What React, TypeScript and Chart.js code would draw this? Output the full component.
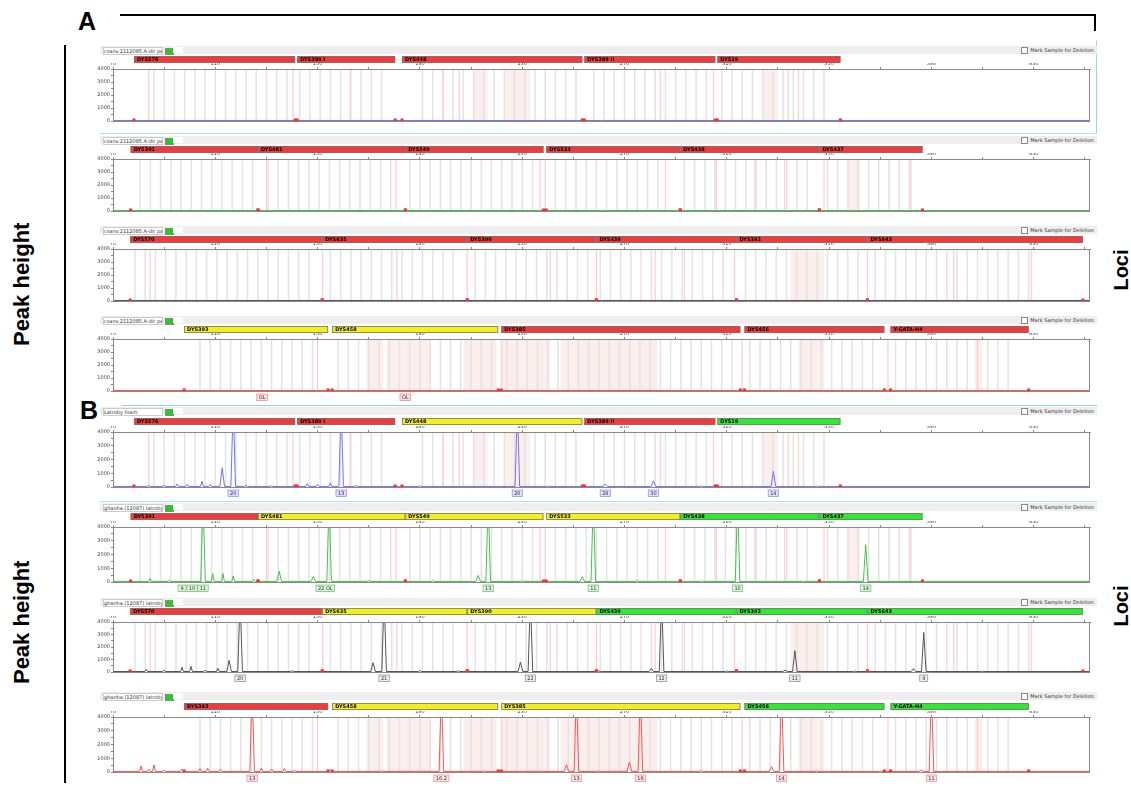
import React, { useEffect, useRef } from "react";
import { Chart, registerables } from "chart.js";
Chart.register(...registerables);

// ---------- axes ----------
const X_MIN = 70;
const X_MAX = 452;
const X_TICKS = [70, 90, 110, 130, 150, 170, 190, 210, 230, 250, 270, 290, 310, 330, 350, 370, 390, 410, 430, 450];
const X_LABELS = [70, 110, 150, 190, 230, 270, 310, 350, 390, 430];
const Y_TICKS = [0, 500, 1000, 1500, 2000, 2500, 3000, 3500, 4000];
const Y_LABELS = [0, 1000, 2000, 3000, 4000];
const BASE = 40;
const BIN_STEP = 4;

// ---------- dye rows: loci, ranges (bp), bins, virtual bins ----------
const LOCI_R1 = ["DYS576", "DYS389 I", "DYS448", "DYS389 II", "DYS19"];
const RANGE_R1 = [[78.2, 141.2], [142, 180.3], [183, 253.5], [254.3, 305.5], [306.3, 354.4]];
const BINS_R1 = [[86, 138], [143, 177], [191, 252], [258, 304], [308, 348]];
const PINK_R1 = [84, 140.4, 162.7, 199, 205.4, 284, 304.8, 334, 338];
const BANDS_R1 = [[211, 216.5], [223, 233], [324, 330]];

const LOCI_R2 = ["DYS391", "DYS481", "DYS549", "DYS533", "DYS438", "DYS437"];
const RANGE_R2 = [[76.9, 126.7], [126.7, 184.3], [184.3, 238.3], [239.4, 291.8], [291.8, 346.2], [346.2, 386.5]];
const BINS_R2 = [[80.6, 126], [130.6, 179.6], [186, 237], [239, 283], [293.4, 344], [349.4, 382]];
const PINK_R2 = [130, 180.7, 237, 286, 306, 321, 332.6, 348, 382];
const BANDS_R2 = [[357, 362]];

const LOCI_R3 = ["DYS570", "DYS635", "DYS390", "DYS439", "DYS392", "DYS643"];
const RANGE_R3 = [[76.7, 151.8], [151.8, 208.5], [208.5, 259], [259, 313.8], [313.8, 365], [365, 449.2]];
const BINS_R3 = [[78.6, 149], [155, 205.8], [211.6, 256.6], [260.5, 311.4], [317.3, 362.3], [368, 430]];
const PINK_R3 = [84.5, 152, 181, 208.5, 241, 259, 282, 293.4, 313, 365, 398.7, 429];
const BANDS_R3 = [[335, 348]];

const LOCI_R4 = ["DYS393", "DYS458", "DYS385", "DYS456", "Y-GATA-H4"];
const RANGE_R4 = [[97.8, 154.1], [155.7, 220.6], [221.8, 315.3], [316.9, 371.6], [374, 428]];
const BINS_R4 = [[104, 148], [158, 218], [224, 312], [319, 370], [376, 420]];
const PINK_R4 = [150, 222, 316, 373, 408];
const BANDS_R4 = [[169, 175.6], [177, 194], [207, 220], [221.5, 241], [245, 283], [338, 348], [407, 410]];

// ---------- locus bar colours per panel (R / Y / G) ----------
const COLS_A1 = ["R", "R", "R", "R", "R"];
const COLS_A2 = ["R", "R", "R", "R", "R", "R"];
const COLS_A3 = ["R", "R", "R", "R", "R", "R"];
const COLS_A4 = ["Y", "Y", "R", "R", "R"];
const COLS_B1 = ["R", "R", "Y", "R", "G"];
const COLS_B2 = ["R", "Y", "Y", "Y", "G", "G"];
const COLS_B3 = ["R", "Y", "Y", "G", "G", "G"];
const COLS_B4 = ["R", "Y", "Y", "G", "G"];

// ---------- peaks [bp, RFU] ----------
const PEAKS_B1 = [[112.7, 1400], [117, 6000], [159.2, 6000], [228.1, 6000], [262.5, 220], [281.3, 460], [328.2, 1140]];
const NOISE_B1 = [[84, 120], [90, 150], [95, 220], [99, 200], [104.8, 420], [108, 180], [122, 140], [132, 100], [146, 260], [150, 200], [155, 300], [165, 120], [190, 90], [240, 80], [300, 90], [345, 70]];
const PEAKS_B2 = [[105.2, 6000], [135, 775], [148.3, 400], [154.5, 6000], [212.8, 485], [216.7, 6000], [253.5, 400], [257.8, 6000], [314.2, 6000], [364.3, 2715]];
const NOISE_B2 = [[84.5, 260], [92, 120], [109, 600], [113, 620], [117, 450], [125, 200], [170, 120], [195, 100], [230, 90], [275, 100], [300, 80], [340, 60]];
const PEAKS_B3 = [[115.4, 940], [119.7, 6000], [171.7, 745], [176, 6000], [229.3, 800], [233.2, 6000], [280.5, 280], [284.5, 6000], [332.8, 150], [336.6, 1710], [383, 280], [387, 3170]];
const NOISE_B3 = [[83, 200], [90, 150], [97, 380], [100.5, 450], [106, 150], [111, 300], [140, 100], [190, 120], [205, 100], [260, 90], [310, 80], [360, 70], [410, 60]];
const PEAKS_B4 = [[124.4, 6000], [198.4, 6000], [247.3, 530], [251.2, 6000], [271.9, 730], [276.2, 6000], [327.5, 390], [331.4, 6000], [386, 150], [390, 6000]];
const NOISE_B4 = [[81, 450], [84, 200], [86, 520], [90, 150], [97, 200], [104, 250], [107, 280], [112, 180], [128, 280], [132, 220], [137, 260], [141, 120], [155, 150], [175, 80], [215, 90], [260, 80], [300, 120], [345, 90], [370, 60]];

// ---------- allele call boxes [bp, label] ----------
const CALLS_A4 = [[128.3, "OL"], [184.3, "OL"]];
const CALLS_B1 = [[117, "20"], [159.2, "13"], [228.1, "20"], [262.5, "28"], [281.3, "30"], [328.2, "14"]];
const CALLS_B2 = [[97, "9"], [100.9, "10"], [105.2, "11"], [153, "22 OL"], [216.7, "13"], [257.8, "11"], [314.2, "10"], [364.3, "14"]];
const CALLS_B3 = [[119.7, "20"], [176, "21"], [233.2, "22"], [284.5, "12"], [336.6, "11"], [387, "9"]];
const CALLS_B4 = [[124.4, "13"], [198.4, "16.2"], [251.2, "13"], [276.2, "16"], [331.4, "14"], [390, "11"]];

const LOCUS_FILL: Record<string, string> = { R: "#f23a3a", Y: "#f4ef1c", G: "#2fe82f" };
const BLUE = "#7373ee";
const GREEN = "#49c049";
const GREY = "#555555";
const RED = "#ff5252";

const ROWS = [
  { loci: LOCI_R1, ranges: RANGE_R1, bins: BINS_R1, pink: PINK_R1, bands: BANDS_R1 },
  { loci: LOCI_R2, ranges: RANGE_R2, bins: BINS_R2, pink: PINK_R2, bands: BANDS_R2 },
  { loci: LOCI_R3, ranges: RANGE_R3, bins: BINS_R3, pink: PINK_R3, bands: BANDS_R3 },
  { loci: LOCI_R4, ranges: RANGE_R4, bins: BINS_R4, pink: PINK_R4, bands: BANDS_R4 },
];

type PanelCfg = {
  header: number; bar: number; plotTop: number; plotBottom: number;
  row: number; cols: string[]; color: string; peaks: number[][]; noise: number[][];
  calls: any[]; callFill: string; callStroke: string; sample: string;
};

const PANELS: PanelCfg[] = [
  { header: 46, bar: 56, plotTop: 69, plotBottom: 121, row: 0, cols: COLS_A1, color: BLUE, peaks: [], noise: [], calls: [], callFill: "#dde", callStroke: BLUE, sample: "csanv.2112085.A-dir pay20" },
  { header: 136, bar: 146, plotTop: 159, plotBottom: 211, row: 1, cols: COLS_A2, color: GREEN, peaks: [], noise: [], calls: [], callFill: "#dfd", callStroke: GREEN, sample: "csanv.2112085.A-dir pay20" },
  { header: 226, bar: 236, plotTop: 249, plotBottom: 301, row: 2, cols: COLS_A3, color: GREY, peaks: [], noise: [], calls: [], callFill: "#eee", callStroke: GREY, sample: "csanv.2112085.A-dir pay20" },
  { header: 316, bar: 326, plotTop: 339, plotBottom: 391, row: 3, cols: COLS_A4, color: RED, peaks: [], noise: [], calls: CALLS_A4, callFill: "#fde0e0", callStroke: "#f08080", sample: "csanv.2112085.A-dir pay20" },
  { header: 407, bar: 418, plotTop: 432, plotBottom: 487, row: 0, cols: COLS_B1, color: BLUE, peaks: PEAKS_B1, noise: NOISE_B1, calls: CALLS_B1, callFill: "#dfe0ff", callStroke: "#8888ee", sample: "Latroby foam" },
  { header: 503, bar: 513, plotTop: 527, plotBottom: 582, row: 1, cols: COLS_B2, color: GREEN, peaks: PEAKS_B2, noise: NOISE_B2, calls: CALLS_B2, callFill: "#dcf5dc", callStroke: "#66bb66", sample: "ghanha.(12087) latroby foam" },
  { header: 598, bar: 608, plotTop: 622, plotBottom: 672, row: 2, cols: COLS_B3, color: GREY, peaks: PEAKS_B3, noise: NOISE_B3, calls: CALLS_B3, callFill: "#eeeeee", callStroke: "#888888", sample: "ghanha.(12087) latroby foam" },
  { header: 692, bar: 703, plotTop: 717, plotBottom: 772, row: 3, cols: COLS_B4, color: RED, peaks: PEAKS_B4, noise: NOISE_B4, calls: CALLS_B4, callFill: "#fde3e3", callStroke: "#ee8888", sample: "ghanha.(12087) latroby foam" },
];

function buildTrace(peaks: number[][], noise: number[][]) {
  const pts: { x: number; y: number }[] = [{ x: X_MIN, y: BASE }];
  const all = [
    ...peaks.map((p) => [p[0], p[1], 0.9]),
    ...noise.map((n) => [n[0], n[1], 0.55]),
  ].sort((a, b) => a[0] - b[0]);
  for (const [bp, h, w] of all) {
    pts.push({ x: bp - w, y: BASE }, { x: bp, y: h }, { x: bp + w, y: BASE });
  }
  pts.push({ x: X_MAX, y: BASE });
  return pts;
}

const CANVAS_LEFT = 95;
const CANVAS_W = 1000;

function Panel({ cfg }: { cfg: PanelCfg }) {
  const ref = useRef<HTMLCanvasElement>(null);
  const canvasTop = cfg.bar - 1;
  const height = cfg.plotBottom - canvasTop + 14;

  useEffect(() => {
    if (!ref.current) return;
    const row = ROWS[cfg.row];
    const padTop = cfg.plotTop - canvasTop - 6;

    const decor = {
      id: "decor",
      beforeDatasetsDraw(chart: any) {
        const { ctx, chartArea: a } = chart;
        const x = chart.scales.x;
        ctx.save();
        ctx.beginPath();
        ctx.rect(a.left, a.top, a.right - a.left, a.bottom - a.top);
        ctx.clip();
        ctx.fillStyle = "#fdeeee";
        row.bands.forEach(([s, e]) => {
          const x1 = x.getPixelForValue(s);
          const x2 = x.getPixelForValue(e);
          ctx.fillRect(x1, a.top, x2 - x1, a.bottom - a.top);
        });
        ctx.strokeStyle = "#e3e3e3";
        ctx.lineWidth = 1.5;
        row.bins.forEach(([s, e]) => {
          for (let v = s; v <= e + 0.01; v += BIN_STEP) {
            const px = x.getPixelForValue(v);
            ctx.beginPath();
            ctx.moveTo(px, a.top);
            ctx.lineTo(px, a.bottom);
            ctx.stroke();
          }
        });
        ctx.strokeStyle = "#ffcccc";
        ctx.lineWidth = 1.2;
        row.pink.forEach((v) => {
          const px = x.getPixelForValue(v);
          ctx.beginPath();
          ctx.moveTo(px, a.top);
          ctx.lineTo(px, a.bottom);
          ctx.stroke();
        });
        ctx.restore();
      },
      afterDraw(chart: any) {
        const { ctx, chartArea: a } = chart;
        const x = chart.scales.x;
        ctx.save();
        // frame
        ctx.strokeStyle = "#8a8a8a";
        ctx.lineWidth = 1;
        ctx.strokeRect(a.left + 0.5, a.top + 0.5, a.right - a.left - 1, a.bottom - a.top);
        // red boundary markers
        ctx.fillStyle = "#ff2a2a";
        row.ranges.forEach(([s, e]) => {
          [s, e].forEach((v) => {
            const px = x.getPixelForValue(v);
            ctx.fillRect(px - 1.5, a.bottom - 2.5, 3, 2.5);
          });
        });
        // locus bars
        const by = cfg.bar - canvasTop;
        row.loci.forEach((name, i) => {
          const [s, e] = row.ranges[i];
          const x1 = x.getPixelForValue(s);
          const x2 = x.getPixelForValue(e);
          ctx.fillStyle = LOCUS_FILL[cfg.cols[i]];
          ctx.fillRect(x1, by, x2 - x1, 7);
          ctx.strokeStyle = "#777";
          ctx.lineWidth = 0.8;
          ctx.strokeRect(x1 + 0.4, by + 0.4, x2 - x1 - 0.8, 6.2);
          ctx.fillStyle = "#000";
          ctx.font = "bold 5px 'DejaVu Sans'";
          ctx.textBaseline = "middle";
          ctx.textAlign = "left";
          ctx.fillText(name, x1 + 3, by + 3.7);
        });
        // allele call boxes
        ctx.font = "5px 'DejaVu Sans'";
        ctx.textAlign = "center";
        ctx.textBaseline = "middle";
        cfg.calls.forEach(([bp, label]: [number, string]) => {
          const px = x.getPixelForValue(bp);
          const w = Math.max(8, ctx.measureText(label).width + 4);
          const y0 = a.bottom + 3;
          ctx.fillStyle = cfg.callFill;
          ctx.fillRect(px - w / 2, y0, w, 6.5);
          ctx.strokeStyle = cfg.callStroke;
          ctx.lineWidth = 0.7;
          ctx.strokeRect(px - w / 2, y0, w, 6.5);
          ctx.fillStyle = "#333";
          ctx.fillText(label, px, y0 + 3.4);
        });
        ctx.restore();
      },
    };

    const chart = new Chart(ref.current, {
      type: "line",
      data: {
        datasets: [
          {
            data: buildTrace(cfg.peaks, cfg.noise),
            borderColor: cfg.color,
            borderWidth: 1,
            pointRadius: 0,
            tension: 0,
            fill: false,
          },
        ],
      },
      options: {
        animation: false,
        responsive: false,
        maintainAspectRatio: false,
        events: [],
        layout: { padding: { top: padTop, right: 5, bottom: 14, left: 0 } },
        plugins: { legend: { display: false }, tooltip: { enabled: false } },
        scales: {
          x: {
            type: "linear",
            position: "top",
            min: X_MIN,
            max: X_MAX,
            afterBuildTicks: (s: any) => {
              s.ticks = X_TICKS.map((v) => ({ value: v }));
            },
            afterFit: (s: any) => {
              s.height = 6;
            },
            ticks: {
              autoSkip: false,
              maxRotation: 0,
              padding: 0,
              color: "#444",
              font: { size: 5, family: "DejaVu Sans" },
              callback: (v: any) => (X_LABELS.includes(Number(v)) ? String(v) : ""),
            },
            grid: { drawOnChartArea: false, drawTicks: true, tickLength: 2, color: "#888" },
            border: { color: "#8a8a8a" },
          },
          y: {
            min: 0,
            max: 4000,
            afterBuildTicks: (s: any) => {
              s.ticks = Y_TICKS.map((v) => ({ value: v }));
            },
            afterFit: (s: any) => {
              s.width = 18;
            },
            ticks: {
              autoSkip: false,
              padding: 1,
              color: "#444",
              font: { size: 5, family: "DejaVu Sans" },
              callback: (v: any) => (Y_LABELS.includes(Number(v)) ? String(v) : ""),
            },
            grid: { drawOnChartArea: false, drawTicks: true, tickLength: 2, color: "#888" },
            border: { color: "#8a8a8a" },
          },
        },
      },
      plugins: [decor],
    } as any);
    return () => chart.destroy();
  }, []);

  return (
    <>
      <div
        style={{
          position: "absolute",
          left: 100,
          top: cfg.header,
          width: 997,
          height: 8,
          background: "#eeeeee",
          fontFamily: "DejaVu Sans",
          fontSize: 5,
          color: "#333",
        }}
      >
        <div style={{ position: "absolute", left: 3, top: 1, width: 58, height: 6, background: "#fff", border: "0.5px solid #ccc", lineHeight: "6px", whiteSpace: "nowrap", overflow: "hidden" }}>
          {cfg.sample}
        </div>
        <div style={{ position: "absolute", left: 65, top: 1.5, width: 7, height: 5, background: "#22cc22", border: "0.5px solid #888" }} />
        <div style={{ position: "absolute", left: 73, top: 1, width: 10, height: 6, background: "#fff" }} />
        <div style={{ position: "absolute", right: 3, top: 1, height: 6, lineHeight: "6px", whiteSpace: "nowrap", display: "flex", alignItems: "center" }}>
          <span style={{ display: "inline-block", width: 5, height: 5, border: "0.5px solid #888", background: "#fff", marginRight: 2 }} />
          Mark Sample for Deletion
        </div>
      </div>
      <canvas
        ref={ref}
        width={CANVAS_W}
        height={height}
        style={{ position: "absolute", left: CANVAS_LEFT, top: canvasTop, width: CANVAS_W, height }}
      />
    </>
  );
}

const labelFont = "'Liberation Sans', Arial, sans-serif";

function Rotated({ text, cx, cy, size }: { text: string; cx: number; cy: number; size: number }) {
  const w = 220;
  const h = size * 1.3;
  return (
    <div
      style={{
        position: "absolute",
        left: cx - w / 2,
        top: cy - h / 2,
        width: w,
        height: h,
        lineHeight: `${h}px`,
        textAlign: "center",
        fontFamily: labelFont,
        fontWeight: "bold",
        fontSize: size,
        color: "#000",
        transform: "rotate(-90deg)",
      }}
    >
      {text}
    </div>
  );
}

export default function App() {
  return (
    <div style={{ position: "fixed", left: 0, top: 0, width: 1131, height: 787, background: "#fff", overflow: "hidden" }}>
      <div style={{ position: "absolute", left: 78, top: 7, fontFamily: labelFont, fontWeight: "bold", fontSize: 25 }}>A</div>
      <div style={{ position: "absolute", left: 80, top: 396, fontFamily: labelFont, fontWeight: "bold", fontSize: 25 }}>B</div>
      <div style={{ position: "absolute", left: 120, top: 14, width: 976, height: 1.5, background: "#000" }} />
      <div style={{ position: "absolute", left: 1094, top: 14, width: 2, height: 17, background: "#000" }} />
      <div style={{ position: "absolute", left: 64, top: 45, width: 1.5, height: 738, background: "#000" }} />
      <div style={{ position: "absolute", left: 1096, top: 40, width: 1, height: 94, background: "#8fe0e0" }} />
      <div style={{ position: "absolute", left: 100, top: 133, width: 997, height: 1, background: "#a8e6e6" }} />
      <div style={{ position: "absolute", left: 122, top: 405, width: 975, height: 1, background: "#8fd8d8" }} />
      <div style={{ position: "absolute", left: 100, top: 501, width: 997, height: 1, background: "#a8e6e6" }} />
      <Rotated text="Peak height" cx={22} cy={284} size={22} />
      <Rotated text="Peak height" cx={22} cy={622} size={22} />
      <Rotated text="Loci" cx={1121} cy={270} size={20} />
      <Rotated text="Loci" cx={1121} cy={606} size={20} />
      {PANELS.map((p, i) => (
        <Panel key={i} cfg={p} />
      ))}
    </div>
  );
}
